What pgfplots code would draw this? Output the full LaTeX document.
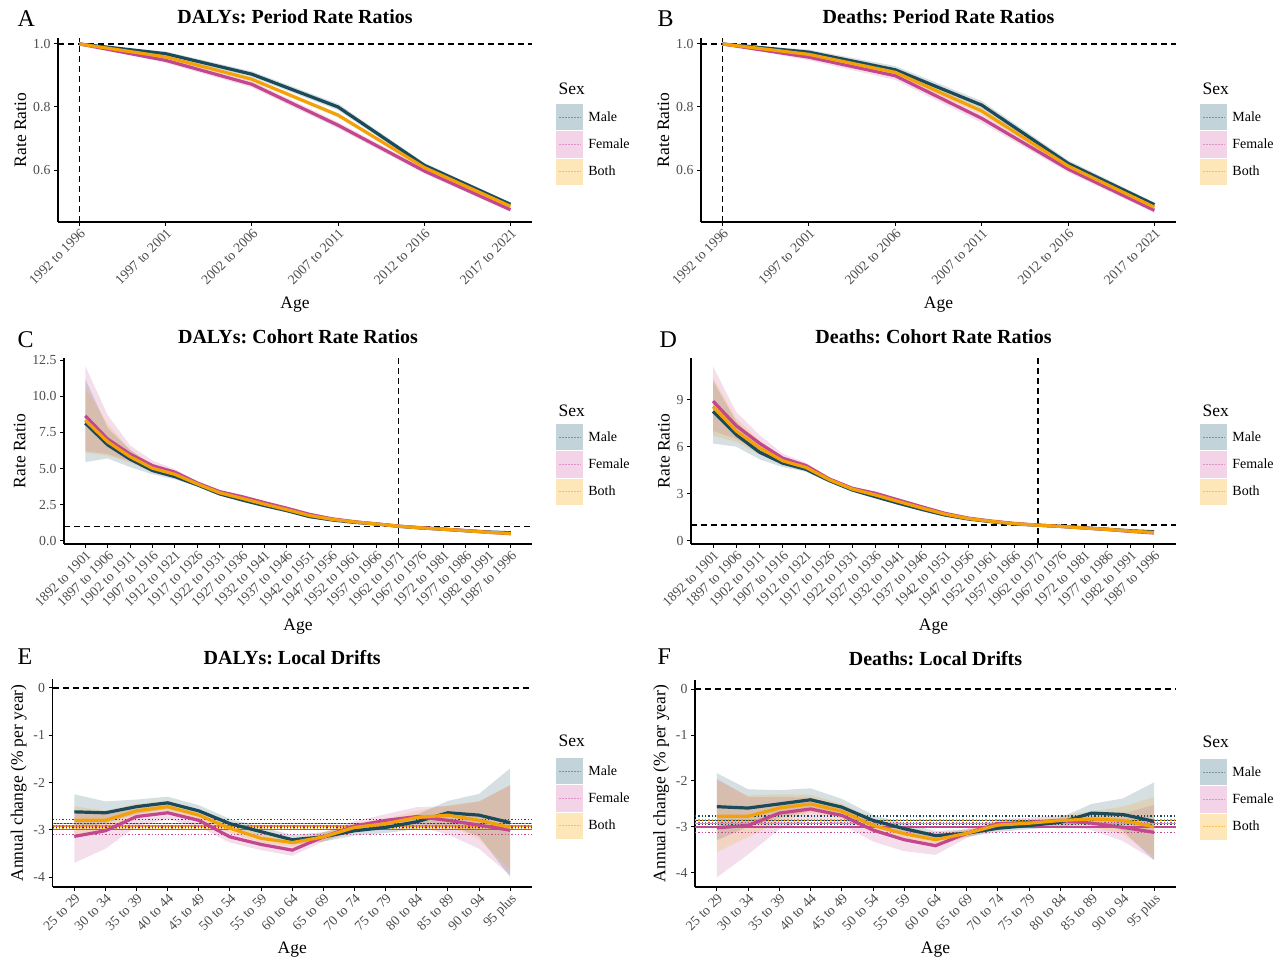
\documentclass[border=0pt]{standalone}
\usepackage{fontspec}
\setmainfont{Liberation Serif}
\usepackage{pgfplots}
\pgfplotsset{compat=1.18}
\usepgfplotslibrary{fillbetween}
\usepackage{pgfplotstable}
\frenchspacing

\definecolor{maleC}{HTML}{1B4B5A}
\definecolor{femC}{HTML}{C2478F}
\definecolor{bothC}{HTML}{F2A208}
\definecolor{maleL}{HTML}{C3D3DA}
\definecolor{femL}{HTML}{F3D3E7}
\definecolor{bothL}{HTML}{FDE6B8}
\definecolor{tickgray}{HTML}{4D4D4D}

\pgfplotstableread{
x m mlo mhi f flo fhi b blo bhi
0 1.000 1.000 1.000 1.000 1.000 1.000 1.000 1.000 1.000
1 0.969 0.962 0.976 0.948 0.940 0.956 0.959 0.953 0.965
2 0.904 0.895 0.913 0.872 0.862 0.882 0.888 0.881 0.895
3 0.800 0.790 0.810 0.742 0.732 0.752 0.774 0.767 0.781
4 0.615 0.607 0.623 0.597 0.589 0.605 0.608 0.602 0.614
5 0.491 0.485 0.497 0.474 0.467 0.481 0.485 0.480 0.490
}\tabA

\pgfplotstableread{
x m mlo mhi f flo fhi b blo bhi
0 1.000 1.000 1.000 1.000 1.000 1.000 1.000 1.000 1.000
1 0.974 0.966 0.982 0.958 0.948 0.968 0.967 0.960 0.974
2 0.918 0.906 0.930 0.899 0.886 0.912 0.910 0.900 0.920
3 0.806 0.793 0.819 0.764 0.750 0.778 0.787 0.777 0.797
4 0.621 0.611 0.631 0.603 0.593 0.613 0.613 0.605 0.621
5 0.490 0.483 0.497 0.472 0.464 0.480 0.482 0.476 0.488
}\tabB

\pgfplotstableread{
x m mlo mhi f flo fhi b blo bhi
0 8.15 5.45 11.2 8.65 6.20 12.1 8.35 6.10 10.6
1 6.64 5.70 7.80 7.04 6.00 8.70 6.85 5.90 8.10
2 5.65 5.10 6.30 6.00 5.50 6.60 5.82 5.40 6.30
3 4.86 4.60 5.20 5.20 4.90 5.55 5.02 4.80 5.30
4 4.44 4.25 4.65 4.75 4.55 4.95 4.60 4.45 4.78
5 3.87 3.75 4.00 4.00 3.87 4.13 3.93 3.83 4.03
6 3.24 3.16 3.32 3.40 3.31 3.49 3.32 3.25 3.39
7 2.82 2.76 2.88 3.05 2.98 3.12 2.93 2.88 2.98
8 2.43 2.38 2.48 2.64 2.58 2.70 2.53 2.49 2.57
9 2.08 2.04 2.12 2.25 2.20 2.30 2.15 2.12 2.18
10 1.67 1.64 1.70 1.83 1.79 1.87 1.75 1.72 1.78
11 1.44 1.42 1.46 1.52 1.49 1.55 1.48 1.46 1.50
12 1.27 1.25 1.29 1.32 1.30 1.34 1.30 1.28 1.32
13 1.16 1.15 1.17 1.16 1.15 1.17 1.16 1.15 1.17
14 1.00 1.00 1.00 1.00 1.00 1.00 1.00 1.00 1.00
15 0.88 0.86 0.90 0.90 0.88 0.92 0.89 0.87 0.91
16 0.79 0.76 0.82 0.80 0.77 0.83 0.79 0.77 0.81
17 0.69 0.66 0.72 0.70 0.67 0.73 0.69 0.67 0.71
18 0.60 0.56 0.64 0.58 0.54 0.62 0.58 0.55 0.61
19 0.55 0.50 0.60 0.48 0.43 0.53 0.50 0.46 0.54
}\tabC

\pgfplotstableread{
x m mlo mhi f flo fhi b blo bhi
0 8.25 6.20 10.2 8.90 7.00 11.1 8.55 6.70 10.4
1 6.76 6.00 7.60 7.33 6.50 8.20 7.00 6.30 7.80
2 5.65 5.20 6.15 6.22 5.70 6.75 5.93 5.50 6.40
3 4.95 4.70 5.20 5.27 5.00 5.55 5.10 4.90 5.30
4 4.56 4.40 4.72 4.80 4.62 4.98 4.68 4.55 4.82
5 3.84 3.74 3.94 3.95 3.84 4.06 3.90 3.82 3.98
6 3.24 3.17 3.31 3.35 3.27 3.43 3.30 3.24 3.36
7 2.81 2.75 2.87 3.03 2.97 3.09 2.92 2.87 2.97
8 2.39 2.34 2.44 2.60 2.55 2.65 2.50 2.46 2.54
9 2.00 1.96 2.04 2.17 2.13 2.21 2.09 2.06 2.12
10 1.64 1.61 1.67 1.75 1.72 1.78 1.70 1.67 1.73
11 1.39 1.37 1.41 1.45 1.43 1.47 1.42 1.40 1.44
12 1.22 1.21 1.23 1.26 1.25 1.27 1.24 1.23 1.25
13 1.07 1.06 1.08 1.11 1.10 1.12 1.09 1.08 1.10
14 1.00 1.00 1.00 1.00 1.00 1.00 1.00 1.00 1.00
15 0.92 0.90 0.94 0.92 0.90 0.94 0.92 0.90 0.94
16 0.83 0.80 0.86 0.82 0.79 0.85 0.82 0.80 0.84
17 0.74 0.70 0.78 0.72 0.68 0.76 0.73 0.70 0.76
18 0.64 0.59 0.69 0.60 0.55 0.65 0.62 0.58 0.66
19 0.58 0.52 0.64 0.50 0.44 0.56 0.53 0.48 0.58
}\tabD

\pgfplotstableread{
x m mlo mhi f flo fhi b blo bhi
0 -2.62 -2.97 -2.25 -3.14 -3.70 -2.60 -2.80 -3.10 -2.50
1 -2.64 -2.86 -2.40 -3.02 -3.40 -2.68 -2.80 -3.00 -2.60
2 -2.51 -2.66 -2.36 -2.72 -2.92 -2.52 -2.60 -2.75 -2.45
3 -2.43 -2.56 -2.30 -2.64 -2.78 -2.50 -2.51 -2.63 -2.39
4 -2.60 -2.72 -2.48 -2.80 -2.93 -2.67 -2.69 -2.80 -2.58
5 -2.87 -2.97 -2.77 -3.15 -3.27 -3.03 -2.97 -3.06 -2.88
6 -3.04 -3.14 -2.94 -3.31 -3.43 -3.19 -3.18 -3.27 -3.09
7 -3.21 -3.31 -3.11 -3.43 -3.55 -3.31 -3.27 -3.36 -3.18
8 -3.15 -3.25 -3.05 -3.15 -3.25 -3.05 -3.15 -3.24 -3.06
9 -3.02 -3.12 -2.92 -2.92 -3.02 -2.82 -2.95 -3.04 -2.86
10 -2.95 -3.07 -2.83 -2.80 -2.93 -2.67 -2.87 -2.97 -2.77
11 -2.83 -2.98 -2.68 -2.72 -2.92 -2.52 -2.74 -2.88 -2.60
12 -2.64 -2.89 -2.39 -2.80 -3.10 -2.50 -2.69 -2.90 -2.48
13 -2.69 -3.14 -2.24 -2.90 -3.40 -2.40 -2.80 -3.20 -2.40
14 -2.85 -4.00 -1.70 -3.01 -3.96 -2.06 -2.95 -3.85 -2.05
}\tabE

\pgfplotstableread{
x m mlo mhi f flo fhi b blo bhi
0 -2.56 -3.29 -1.83 -3.02 -4.10 -1.95 -2.77 -3.55 -1.99
1 -2.59 -3.00 -2.18 -2.97 -3.60 -2.35 -2.77 -3.22 -2.32
2 -2.50 -2.80 -2.20 -2.70 -3.05 -2.35 -2.59 -2.89 -2.29
3 -2.41 -2.66 -2.16 -2.61 -2.86 -2.36 -2.50 -2.70 -2.30
4 -2.57 -2.75 -2.39 -2.75 -2.95 -2.55 -2.66 -2.82 -2.50
5 -2.86 -2.98 -2.74 -3.07 -3.32 -2.82 -2.97 -3.12 -2.82
6 -3.04 -3.16 -2.92 -3.28 -3.53 -3.03 -3.15 -3.30 -3.00
7 -3.19 -3.29 -3.09 -3.41 -3.61 -3.21 -3.28 -3.42 -3.14
8 -3.14 -3.22 -3.06 -3.14 -3.24 -3.04 -3.14 -3.22 -3.06
9 -3.03 -3.11 -2.95 -2.93 -3.03 -2.83 -2.96 -3.04 -2.88
10 -2.97 -3.05 -2.89 -2.90 -3.00 -2.80 -2.92 -3.00 -2.84
11 -2.90 -3.00 -2.80 -2.86 -2.98 -2.74 -2.86 -2.96 -2.76
12 -2.70 -2.90 -2.50 -2.92 -3.07 -2.77 -2.83 -3.00 -2.66
13 -2.73 -3.08 -2.38 -3.01 -3.31 -2.71 -2.86 -3.16 -2.56
14 -2.88 -3.73 -2.03 -3.12 -3.72 -2.52 -3.00 -3.65 -2.35
}\tabF

\pgfplotsset{
  panel/.style={
    scale only axis, anchor=south west, clip mode=individual,
    axis x line*=bottom, axis y line*=left,
    axis line style={-, line width=1.1pt, black},
    tick align=outside, major tick length=4pt,
    tick style={line width=1pt, black},
    ticklabel style={font=\fontsize{13.8}{14}\selectfont, text=tickgray},
    xticklabel style={rotate=45, anchor=north east, inner sep=1pt},
    xlabel=Age,
    label style={font=\fontsize{17.5}{18}\selectfont},
    xlabel style={yshift=-6pt},
    title style={font=\bfseries\fontsize{20}{22}\selectfont, at={(0.5,1)}, anchor=base, yshift=8.5pt},
    legend style={draw=none, fill=none, at={(1,1)}, anchor=north west, xshift=24pt, yshift=-66pt,
      font=\fontsize{14}{16}\selectfont, row sep=1pt, inner sep=0pt, column sep=4pt, nodes={inner sep=1pt}},
    legend cell align=left,
  },
  maleS/.style={color=maleC, line width=3.2pt,
    legend image code/.code={\fill[maleL] (0pt,-11.5pt) rectangle (24pt,11.5pt);
      \draw[line width=1pt, maleC!45!maleL, dash pattern=on 2pt off 1pt] (1pt,0pt)--(23pt,0pt);}},
  femS/.style={color=femC, line width=3.2pt,
    legend image code/.code={\fill[femL] (0pt,-11.5pt) rectangle (24pt,11.5pt);
      \draw[line width=1pt, femC!45!femL, dash pattern=on 2pt off 1pt] (1pt,0pt)--(23pt,0pt);}},
  bothS/.style={color=bothC, line width=3.2pt,
    legend image code/.code={\fill[bothL] (0pt,-11.5pt) rectangle (24pt,11.5pt);
      \draw[line width=1pt, bothC!55!bothL, dash pattern=on 2pt off 1pt] (1pt,0pt)--(23pt,0pt);}},
  refline/.style={black, line width=1.4pt, dash pattern=on 6pt off 4pt, forget plot},
}

\newcommand{\ribbons}[1]{%
  \addplot[draw=none, name path=mlo, forget plot] table[x=x,y=mlo]{#1};
  \addplot[draw=none, name path=mhi, forget plot] table[x=x,y=mhi]{#1};
  \addplot[fill=maleC, fill opacity=0.18, draw=none, forget plot] fill between[of=mlo and mhi];
  \addplot[draw=none, name path=flo, forget plot] table[x=x,y=flo]{#1};
  \addplot[draw=none, name path=fhi, forget plot] table[x=x,y=fhi]{#1};
  \addplot[fill=femC, fill opacity=0.18, draw=none, forget plot] fill between[of=flo and fhi];
  \addplot[draw=none, name path=blo, forget plot] table[x=x,y=blo]{#1};
  \addplot[draw=none, name path=bhi, forget plot] table[x=x,y=bhi]{#1};
  \addplot[fill=bothC, fill opacity=0.18, draw=none, forget plot] fill between[of=blo and bhi];
}
\newcommand{\sexlines}[1]{%
  \addplot[maleS] table[x=x,y=m]{#1};
  \addplot[femS] table[x=x,y=f]{#1};
  \addplot[bothS] table[x=x,y=b]{#1};
  \legend{Male,Female,Both}
}
\newcommand{\sexlabel}[1]{%
  \node[anchor=base west, font=\fontsize{17.5}{18}\selectfont, xshift=23pt, yshift=#1] at (rel axis cs:1,1) {Sex};
}

\begin{document}
\begin{tikzpicture}

\node[anchor=base west, font=\fontsize{24}{24}\selectfont] at (14pt,934pt) {A};
\node[anchor=base west, font=\fontsize{24}{24}\selectfont] at (654pt,934pt) {B};
\node[anchor=base west, font=\fontsize{24}{24}\selectfont] at (14pt,613pt) {C};
\node[anchor=base west, font=\fontsize{24}{24}\selectfont] at (656pt,613pt) {D};
\node[anchor=base west, font=\fontsize{24}{24}\selectfont] at (14pt,296pt) {E};
\node[anchor=base west, font=\fontsize{24}{24}\selectfont] at (654pt,296pt) {F};

% ---------- A ----------
\begin{axis}[panel, at={(58pt,739pt)}, width=474pt, height=184pt,
  title={DALYs: Period Rate Ratios}, ylabel={Rate Ratio},
  xmin=-0.25, xmax=5.25, ymin=0.435, ymax=1.019,
  xtick={0,...,5},
  xticklabels={1992 to 1996,1997 to 2001,2002 to 2006,2007 to 2011,2012 to 2016,2017 to 2021},
  ytick={0.6,0.8,1.0}, yticklabels={0.6,0.8,1.0}]
  \addplot[refline] coordinates {(-0.25,1) (5.25,1)};
  \addplot[refline] coordinates {(0,0.435) (0,1.019)};
  \ribbons{\tabA}
  \sexlines{\tabA}
  \sexlabel{-57pt}
\end{axis}

% ---------- B ----------
\begin{axis}[panel, at={(701pt,739pt)}, width=475pt, height=184pt,
  title={Deaths: Period Rate Ratios}, ylabel={Rate Ratio},
  xmin=-0.25, xmax=5.25, ymin=0.435, ymax=1.019,
  xtick={0,...,5},
  xticklabels={1992 to 1996,1997 to 2001,2002 to 2006,2007 to 2011,2012 to 2016,2017 to 2021},
  ytick={0.6,0.8,1.0}, yticklabels={0.6,0.8,1.0}]
  \addplot[refline] coordinates {(-0.25,1) (5.25,1)};
  \addplot[refline] coordinates {(0,0.435) (0,1.019)};
  \ribbons{\tabB}
  \sexlines{\tabB}
  \sexlabel{-57pt}
\end{axis}

% ---------- C ----------
\begin{axis}[panel, at={(64pt,417pt)}, width=468pt, height=186pt,
  title={DALYs: Cohort Rate Ratios}, ylabel={Rate Ratio},
  xmin=-0.95, xmax=19.95, ymin=-0.23, ymax=12.66,
  xtick={0,...,19},
  xticklabels={1892 to 1901,1897 to 1906,1902 to 1911,1907 to 1916,1912 to 1921,1917 to 1926,1922 to 1931,1927 to 1936,1932 to 1941,1937 to 1946,1942 to 1951,1947 to 1956,1952 to 1961,1957 to 1966,1962 to 1971,1967 to 1976,1972 to 1981,1977 to 1986,1982 to 1991,1987 to 1996},
  ytick={0,2.5,5,7.5,10,12.5}, yticklabels={0.0,2.5,5.0,7.5,10.0,12.5}]
  \addplot[refline] coordinates {(-0.95,1) (19.95,1)};
  \addplot[refline] coordinates {(14,-0.23) (14,12.66)};
  \ribbons{\tabC}
  \sexlines{\tabC}
  \sexlabel{-59pt}
\end{axis}

% ---------- D ----------
\begin{axis}[panel, at={(691pt,417pt)}, width=485pt, height=186pt,
  title={Deaths: Cohort Rate Ratios}, ylabel={Rate Ratio},
  xmin=-0.95, xmax=19.95, ymin=-0.2, ymax=11.65,
  xtick={0,...,19},
  xticklabels={1892 to 1901,1897 to 1906,1902 to 1911,1907 to 1916,1912 to 1921,1917 to 1926,1922 to 1931,1927 to 1936,1932 to 1941,1937 to 1946,1942 to 1951,1947 to 1956,1952 to 1961,1957 to 1966,1962 to 1971,1967 to 1976,1972 to 1981,1977 to 1986,1982 to 1991,1987 to 1996},
  ytick={0,3,6,9}, yticklabels={0,3,6,9}]
  \addplot[refline] coordinates {(-0.95,1) (19.95,1)};
  \addplot[refline] coordinates {(14,-0.2) (14,11.65)};
  \ribbons{\tabD}
  \sexlines{\tabD}
  \sexlabel{-59pt}
\end{axis}

% ---------- E ----------
\begin{axis}[panel, at={(52.5pt,74pt)}, width=479.5pt, height=208pt,
  title={DALYs: Local Drifts}, ylabel={Annual change (\% per year)},
  xmin=-0.7, xmax=14.7, ymin=-4.21, ymax=0.19,
  xtick={0,...,14},
  xticklabels={25 to 29,30 to 34,35 to 39,40 to 44,45 to 49,50 to 54,55 to 59,60 to 64,65 to 69,70 to 74,75 to 79,80 to 84,85 to 89,90 to 94,95 plus},
  ytick={-4,-3,-2,-1,0}, yticklabels={-4,-3,-2,-1,0},
  legend style={yshift=-13pt}]
  \addplot[refline] coordinates {(-0.7,0) (14.7,0)};
  \ribbons{\tabE}
  \addplot[maleC, line width=1.3pt, forget plot] coordinates {(-0.7,-2.86) (14.7,-2.86)};
  \addplot[maleC, line width=1.3pt, dotted, forget plot] coordinates {(-0.7,-2.78) (14.7,-2.78)};
  \addplot[maleC, line width=1.3pt, dotted, forget plot] coordinates {(-0.7,-2.94) (14.7,-2.94)};
  \addplot[bothC, line width=1.3pt, forget plot] coordinates {(-0.7,-2.92) (14.7,-2.92)};
  \addplot[bothC, line width=1.3pt, dotted, forget plot] coordinates {(-0.7,-2.86) (14.7,-2.86)};
  \addplot[bothC, line width=1.3pt, dotted, forget plot] coordinates {(-0.7,-2.98) (14.7,-2.98)};
  \addplot[femC, line width=1.3pt, forget plot] coordinates {(-0.7,-3.00) (14.7,-3.00)};
  \addplot[femC, line width=1.3pt, dotted, forget plot] coordinates {(-0.7,-2.92) (14.7,-2.92)};
  \addplot[femC, line width=1.3pt, dotted, forget plot] coordinates {(-0.7,-3.10) (14.7,-3.10)};
  \sexlines{\tabE}
  \sexlabel{-67pt}
\end{axis}

% ---------- F ----------
\begin{axis}[panel, at={(695pt,74pt)}, width=481pt, height=207pt,
  title={Deaths: Local Drifts}, ylabel={Annual change (\% per year)},
  xmin=-0.7, xmax=14.7, ymin=-4.31, ymax=0.2,
  xtick={0,...,14},
  xticklabels={25 to 29,30 to 34,35 to 39,40 to 44,45 to 49,50 to 54,55 to 59,60 to 64,65 to 69,70 to 74,75 to 79,80 to 84,85 to 89,90 to 94,95 plus},
  ytick={-4,-3,-2,-1,0}, yticklabels={-4,-3,-2,-1,0},
  legend style={yshift=-13pt}]
  \addplot[refline] coordinates {(-0.7,0) (14.7,0)};
  \ribbons{\tabF}
  \addplot[maleC, line width=1.3pt, forget plot] coordinates {(-0.7,-2.86) (14.7,-2.86)};
  \addplot[maleC, line width=1.3pt, dotted, forget plot] coordinates {(-0.7,-2.76) (14.7,-2.76)};
  \addplot[maleC, line width=1.3pt, dotted, forget plot] coordinates {(-0.7,-2.95) (14.7,-2.95)};
  \addplot[bothC, line width=1.3pt, forget plot] coordinates {(-0.7,-2.93) (14.7,-2.93)};
  \addplot[bothC, line width=1.3pt, dotted, forget plot] coordinates {(-0.7,-2.85) (14.7,-2.85)};
  \addplot[bothC, line width=1.3pt, dotted, forget plot] coordinates {(-0.7,-3.00) (14.7,-3.00)};
  \addplot[femC, line width=1.3pt, forget plot] coordinates {(-0.7,-3.00) (14.7,-3.00)};
  \addplot[femC, line width=1.3pt, dotted, forget plot] coordinates {(-0.7,-2.90) (14.7,-2.90)};
  \addplot[femC, line width=1.3pt, dotted, forget plot] coordinates {(-0.7,-3.12) (14.7,-3.12)};
  \sexlines{\tabF}
  \sexlabel{-67pt}
\end{axis}

\pgfresetboundingbox
\useasboundingbox (0,0) rectangle (1279pt,961pt);
\end{tikzpicture}
\end{document}
